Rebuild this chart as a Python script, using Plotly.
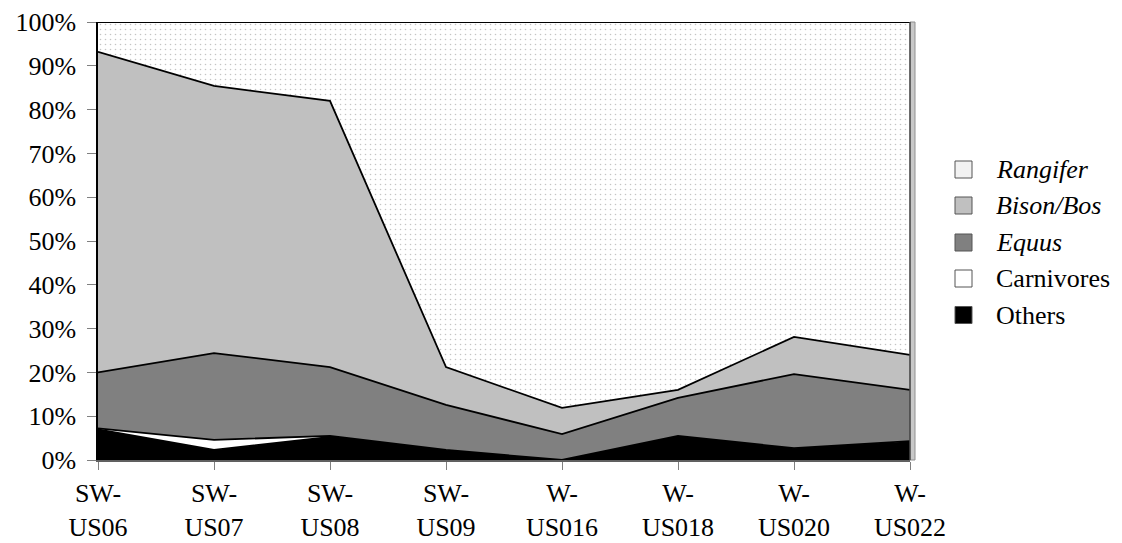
import plotly.graph_objects as go

sites = ["SW-US06", "SW-US07", "SW-US08", "SW-US09", "W-US016", "W-US018", "W-US020", "W-US022"]
tick_top = ["SW-", "SW-", "SW-", "SW-", "W-", "W-", "W-", "W-"]
tick_bottom = ["US06", "US07", "US08", "US09", "US016", "US018", "US020", "US022"]

others = [7.0, 2.3, 5.3, 2.3, 0.0, 5.5, 2.7, 4.0]
carnivores = [0.2, 2.3, 0.2, 0.0, 0.0, 0.0, 0.0, 0.3]
equus = [12.8, 19.8, 15.7, 10.3, 5.9, 8.7, 16.9, 11.7]
bison = [73.2, 61.0, 60.8, 8.6, 6.0, 1.8, 8.5, 8.0]
rangifer = [6.8, 14.6, 18.0, 78.8, 88.1, 84.0, 71.9, 76.0]

FONT = "Liberation Serif"
x = list(range(len(sites)))

fig = go.Figure()
series = [
    ("Others", others, "black", None),
    ("Carnivores", carnivores, "white", None),
    ("Equus", equus, "#808080", None),
    ("Bison/Bos", bison, "#c0c0c0", None),
    ("Rangifer", rangifer, "white", dict(shape=".", fgcolor="#8a8a8a", bgcolor="white", size=5, solidity=0.08)),
]
for name, vals, col, pat in series:
    kw = dict(x=x, y=vals, name=name, stackgroup="one", mode="lines",
              line=dict(color="black", width=1.8), fillcolor=col, showlegend=False,
              hoverinfo="skip")
    if pat:
        kw["fillpattern"] = pat
    fig.add_trace(go.Scatter(**kw))

L, R, T, B = 98, 910, 22, 460
W, H = 1122, 543

def px(v):
    return (v - L) / (R - L)

def py(v):
    return (B - v) / (B - T)

shapes = []
# right wall strip
shapes.append(dict(type="rect", xref="paper", yref="paper", x0=px(910), x1=px(915), y0=py(460), y1=py(22),
                   fillcolor="#c8c8c8", line=dict(color="#909090", width=1), layer="above"))
shapes.append(dict(type="line", xref="paper", yref="paper", x0=px(910), x1=px(910), y0=py(460), y1=py(22),
                   line=dict(color="#303030", width=1.2), layer="above"))

# custom legend
leg_names = ["<i>Rangifer</i>", "<i>Bison/Bos</i>", "<i>Equus</i>", "Carnivores", "Others"]
leg_fill = ["#f2f2f2", "#c0c0c0", "#808080", "white", "black"]
leg_y = [169.5, 205.5, 242.5, 278.5, 315]
annotations = []
for nm, fc, yy in zip(leg_names, leg_fill, leg_y):
    shapes.append(dict(type="rect", xref="paper", yref="paper", x0=px(955), x1=px(972),
                       y0=py(yy + 8.5), y1=py(yy - 8.5), fillcolor=fc,
                       line=dict(color="#555555", width=1)))
    annotations.append(dict(xref="paper", yref="paper", x=px(994), y=py(yy), text=nm,
                            showarrow=False, xanchor="left", yanchor="middle",
                            font=dict(family=FONT, size=26, color="black")))

ticktext = [f"{a}<br>{b}" for a, b in zip(tick_top, tick_bottom)]

fig.update_layout(
    width=W, height=H,
    margin=dict(l=L, r=W - R, t=T, b=H - B, autoexpand=False),
    paper_bgcolor="white", plot_bgcolor="white",
    font=dict(family=FONT, size=26, color="black"),
    shapes=shapes, annotations=annotations,
    xaxis=dict(range=[0, 7], tickmode="array", tickvals=x, ticktext=ticktext,
               tickfont=dict(family=FONT, size=26), ticks="outside", ticklen=8,
               tickcolor="#808080", showline=True, linecolor="#606060", linewidth=1.5,
               showgrid=False, zeroline=False, automargin=False, ticklabelstandoff=1),
    yaxis=dict(range=[0, 100], tickmode="array", tickvals=list(range(0, 101, 10)),
               ticktext=[f"{v}%" for v in range(0, 101, 10)],
               tickfont=dict(family=FONT, size=26), ticks="outside", ticklen=9,
               tickcolor="#808080", showline=True, linecolor="black", linewidth=1.5,
               showgrid=False, zeroline=False, automargin=False, ticklabelstandoff=6),
)

fig.write_html("out.html", config={"displayModeBar": False},
               post_script="document.body.style.margin='0px';")
